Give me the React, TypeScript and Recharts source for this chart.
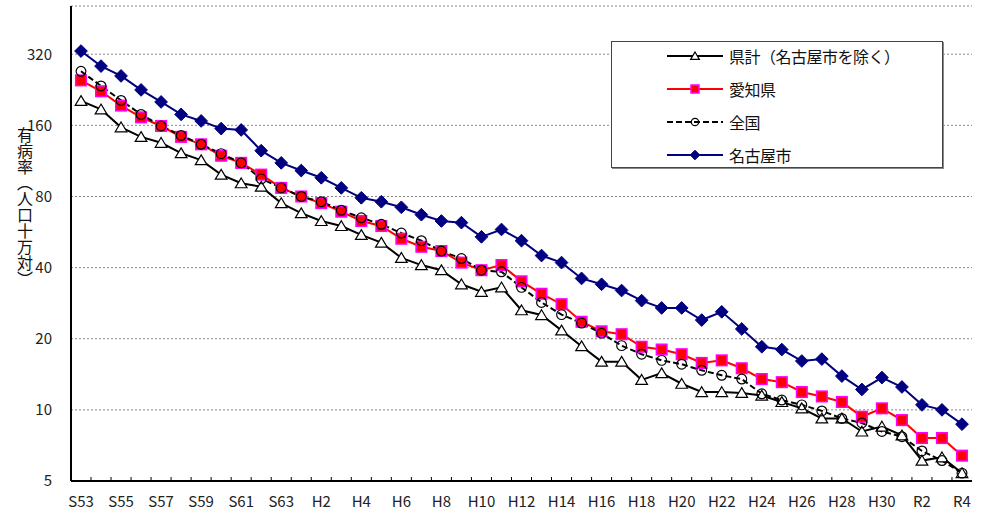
import { LineChart, Line, XAxis, YAxis, CartesianGrid, Legend } from 'recharts'

const FONT = '"Noto Sans CJK JP", "Noto Sans", sans-serif'

// 年次 (S53 - R4)
const years = [
  'S53', 'S54', 'S55', 'S56', 'S57', 'S58', 'S59', 'S60', 'S61', 'S62', 'S63',
  'H1', 'H2', 'H3', 'H4', 'H5', 'H6', 'H7', 'H8', 'H9', 'H10',
  'H11', 'H12', 'H13', 'H14', 'H15', 'H16', 'H17', 'H18', 'H19', 'H20',
  'H21', 'H22', 'H23', 'H24', 'H25', 'H26', 'H27', 'H28', 'H29', 'H30',
  'R1', 'R2', 'R3', 'R4',
]

// 有病率（人口十万対）
const prefExNagoya = [
  203, 187, 157, 143, 135, 122, 114, 99, 91, 88, 75, 68,
  63, 60, 55, 51, 44, 41, 39, 34, 31.6, 33, 26.4,
  25.2, 21.7, 18.6, 16.0, 16.0, 13.4, 14.3, 12.9, 11.9, 11.9, 11.8,
  11.5, 10.8, 10.15, 9.2, 9.2, 8.1, 8.5, 7.8, 6.1, 6.3, 5.4,
]
const aichi = [
  248, 223, 194, 173, 159, 143, 133, 119, 111, 99, 87, 80,
  75, 69, 63, 60, 53, 49, 47, 42, 39, 41, 35,
  31, 28, 23.6, 21.5, 20.9, 18.5, 18.0, 17.2, 15.8, 16.2, 15.0,
  13.5, 13.1, 11.9, 11.4, 10.8, 9.35, 10.15, 9.05, 7.6, 7.6, 6.4,
]
const national = [
  271, 235, 204, 178, 159, 145, 133, 121.5, 111, 95, 87, 80,
  76, 70, 65, 61, 56, 52, 47, 43.7, 39, 38.4, 33,
  28.5, 25.3, 23.3, 21.1, 18.7, 17.2, 16.2, 15.6, 14.7, 14.0, 13.5,
  11.7, 11.0, 10.5, 9.9, 9.2, 8.8, 8.1, 7.7, 6.7, 6.1, 5.4,
]
const nagoya = [
  330, 285, 259, 226, 201, 178, 167, 155, 153, 125, 111, 103,
  96, 87, 79, 76, 72, 67, 63, 62, 54, 58, 52,
  45, 42, 36, 34, 32, 29, 27, 27, 24, 26, 22,
  18.5, 18, 16.1, 16.4, 13.9, 12.2, 13.7, 12.5, 10.5, 10.0, 8.7,
]

const yTicks = [5, 10, 20, 40, 80, 160, 320]

const data = years.map((year, i) => ({
  year,
  pref: prefExNagoya[i],
  aichi: aichi[i],
  national: national[i],
  nagoya: nagoya[i],
}))

type Marker = 'tri' | 'square' | 'circle' | 'diamond'

const series: { key: string; name: string; color: string; dash?: string; marker: Marker }[] = [
  { key: 'pref', name: '県計（名古屋市を除く）', color: '#000000', marker: 'tri' },
  { key: 'aichi', name: '愛知県', color: '#FF0000', marker: 'square' },
  { key: 'national', name: '全国', color: '#000000', dash: '6 3', marker: 'circle' },
  { key: 'nagoya', name: '名古屋市', color: '#000080', marker: 'diamond' },
]

const drawMarker = (marker: Marker, cx: number, cy: number, s: number, key?: any) => {
  switch (marker) {
    case 'tri':
      return (
        <path key={key} d={`M${cx},${cy - s}L${cx + s * 1.1},${cy + s * 0.85}L${cx - s * 1.1},${cy + s * 0.85}Z`}
          fill="#fff" stroke="#000" strokeWidth={1.2} />
      )
    case 'square':
      return (
        <rect key={key} x={cx - s} y={cy - s} width={s * 2} height={s * 2}
          fill="#FF0000" stroke="#FF00FF" strokeWidth={1.5} />
      )
    case 'circle':
      return <circle key={key} cx={cx} cy={cy} r={s * 0.92} fill="none" stroke="#000" strokeWidth={1.2} />
    default:
      return (
        <path key={key} d={`M${cx},${cy - s * 1.2}L${cx + s * 1.2},${cy}L${cx},${cy + s * 1.2}L${cx - s * 1.2},${cy}Z`}
          fill="#000080" stroke="#000080" strokeWidth={1} />
      )
  }
}

const makeDot = (marker: Marker) => (props: any) => {
  const { cx, cy, index } = props
  if (cx == null || cy == null) return <g key={index} />
  return drawMarker(marker, cx, cy, 5.3, index)
}

const XTick = ({ x, y, payload, index }: any) => (
  <g>
    {index < years.length - 1 && (
      <line x1={x + 10} x2={x + 10} y1={y - 4} y2={y} stroke="#000" strokeWidth={1} />
    )}
    {index % 2 === 0 && (
      <text x={x} y={y + 26} textAnchor="middle" fontSize={15} fill="#222" fontFamily={FONT}>
        {payload.value}
      </text>
    )}
  </g>
)

const LegendBox = () => (
  <div
    style={{
      position: 'relative',
      width: 332,
      height: 127,
      boxSizing: 'border-box',
      border: '1px solid #444',
      boxShadow: '1px 1px 0 #888',
      background: '#fff',
      fontFamily: FONT,
    }}
  >
    {series.map((s, i) => (
      <div key={s.key} style={{ position: 'absolute', left: 0, top: 4 + 33 * i, height: 20, display: 'flex', alignItems: 'center' }}>
        <svg width={56} height={20} style={{ marginLeft: 55 }}>
          <line x1={0} x2={56} y1={10} y2={10} stroke={s.color} strokeWidth={2} strokeDasharray={s.dash} />
          {drawMarker(s.marker, 28, 10, 4)}
        </svg>
        <span style={{ marginLeft: 6, fontSize: 16, color: '#111', whiteSpace: 'nowrap', letterSpacing: -0.5 }}>{s.name}</span>
      </div>
    ))}
  </div>
)

const YTitle = () => (
  <text x={25} y={127} fontSize={16} fill="#111" fontFamily={FONT} style={{ writingMode: 'vertical-rl' }}>
    有病率（人口十万対）
  </text>
)

export default function App() {
  return (
    <div style={{ position: 'absolute', left: 0, top: 0, background: '#fff' }}>
      <LineChart
        width={987}
        height={513}
        data={data}
        margin={{ top: 6, right: 15, bottom: 2, left: 0 }}
        style={{ fontFamily: FONT }}
      >
        <CartesianGrid horizontal vertical={false} stroke="#888" strokeDasharray="2 2" />
        <XAxis
          dataKey="year"
          interval={0}
          height={30}
          padding={{ left: 10, right: 10 }}
          tickSize={0}
          tickMargin={0}
          tickLine={false}
          axisLine={{ stroke: '#000', strokeWidth: 2 }}
          tick={<XTick />}
        />
        <XAxis
          xAxisId="top"
          orientation="top"
          dataKey="year"
          height={0}
          tick={false}
          tickLine={false}
          axisLine={{ stroke: '#808080', strokeWidth: 2 }}
        />
        <YAxis
          type="number"
          scale="log"
          domain={[5, 512]}
          ticks={yTicks}
          allowDataOverflow
          width={71}
          tickSize={4}
          tickMargin={15}
          tickLine={false}
          axisLine={{ stroke: '#000', strokeWidth: 2 }}
          tick={{ fontSize: 15, fill: '#222', fontFamily: FONT }}
          label={<YTitle />}
        />
        <YAxis
          yAxisId="right"
          orientation="right"
          width={0}
          tick={false}
          tickLine={false}
          axisLine={{ stroke: '#808080', strokeWidth: 2 }}
        />
        {series.map((s) => (
          <Line
            key={s.key}
            dataKey={s.key}
            name={s.name}
            type="linear"
            stroke={s.color}
            strokeWidth={2}
            strokeDasharray={s.dash}
            dot={makeDot(s.marker)}
            activeDot={false}
            isAnimationActive={false}
          />
        ))}
        <Legend
          content={<LegendBox />}
          layout="vertical"
          align="center"
          verticalAlign="middle"
          wrapperStyle={{ left: 611, top: 41, width: 332, height: 127 }}
        />
      </LineChart>
    </div>
  )
}
